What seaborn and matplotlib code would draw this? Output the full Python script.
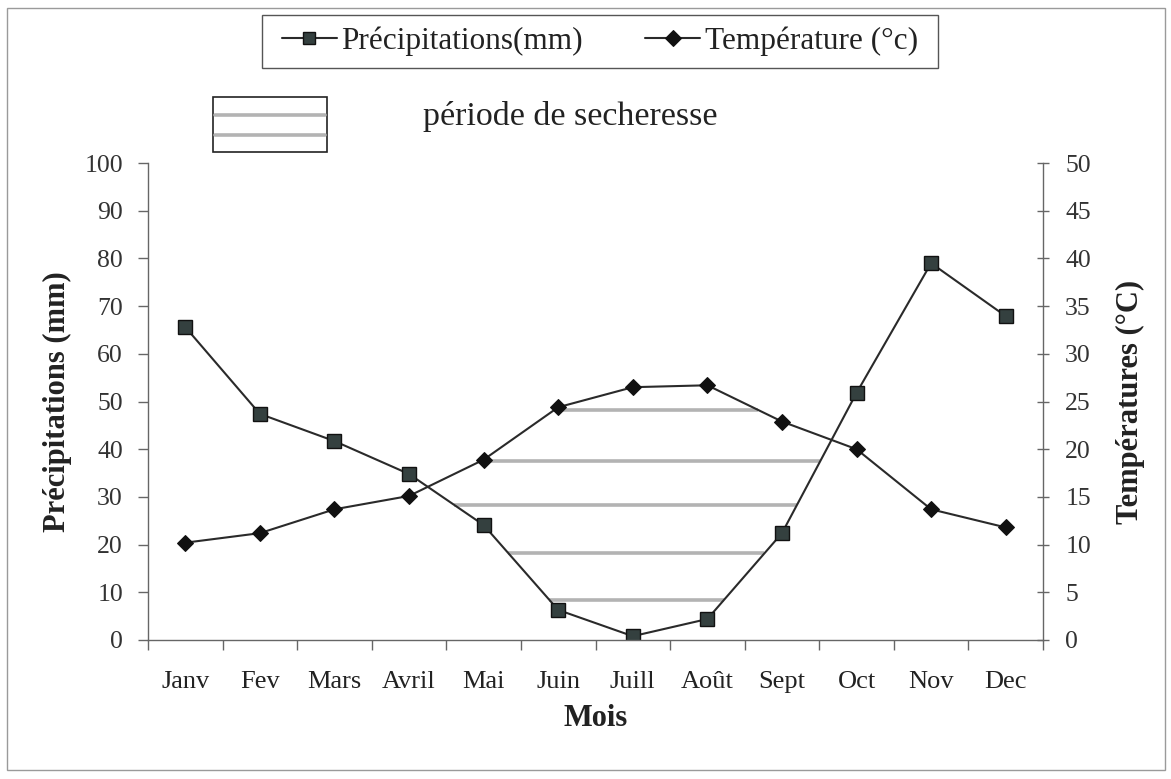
import numpy as np
import pandas as pd
import matplotlib
matplotlib.use("Agg")
import matplotlib.pyplot as plt
import matplotlib.patches as mpatches
import matplotlib.lines as mlines
import seaborn as sns

# ---- data ----
months = ["Janv", "Fev", "Mars", "Avril", "Mai", "Juin", "Juill", "Août",
          "Sept", "Oct", "Nov", "Dec"]
precip = [65.6, 47.4, 41.7, 34.8, 24.1, 6.3, 0.8, 4.4, 22.4, 51.8, 79.0, 67.9]
temp = [10.2, 11.2, 13.7, 15.1, 18.9, 24.4, 26.5, 26.7, 22.9, 20.0, 13.7, 11.8]
hatch_levels = [8.4, 18.2, 28.3, 37.5, 48.2]   # mm levels of the drought hatching
precip_ticks = list(range(0, 101, 10))
temp_ticks = list(range(0, 51, 5))

df = pd.DataFrame({"Mois": months, "P": precip, "T": temp})

sns.set_style("white")
plt.rcParams["font.family"] = ["Liberation Serif", "DejaVu Serif"]

W, H = 1171, 779
fig = plt.figure(figsize=(W / 100, H / 100), dpi=100)
ax = fig.add_axes([148 / W, 1 - 640 / H, (1043 - 148) / W, (640 - 163) / H])
ax2 = ax.twinx()

line_col = "#2a2a2a"
sns.lineplot(data=df, x="Mois", y="P", ax=ax, color=line_col, lw=1.5,
             marker="s", markersize=10, markerfacecolor="#34403f",
             markeredgecolor="#111111", markeredgewidth=1.0,
             label="Précipitations(mm)", sort=False)
sns.lineplot(data=df, x="Mois", y="T", ax=ax2, color=line_col, lw=1.5,
             marker="D", markersize=8.5, markerfacecolor="#111111",
             markeredgecolor="#111111", label="Température (°c)", sort=False)

# drought hatching: horizontal lines where precipitation < 2 x temperature
idx = np.arange(len(months))
xs = np.linspace(0, len(months) - 1, 4401)
p_i = np.interp(xs, idx, precip)
t2_i = np.interp(xs, idx, np.array(temp) * 2)
for L in hatch_levels:
    m = (p_i <= L) & (t2_i >= L)
    if m.any():
        ax.hlines(L, xs[m].min(), xs[m].max(), color="#b3b3b3", lw=2.6, zorder=1)

ax.set_xlim(-0.5, len(months) - 0.5)
ax.set_ylim(0, 100)
ax2.set_ylim(0, 50)
ax.set_yticks(precip_ticks)
ax2.set_yticks(temp_ticks)

# category ticks between months
ax.set_xticks(idx)
ax.set_xticks(np.arange(-0.5, len(months), 1), minor=True)
ax.tick_params(axis="x", which="major", length=0, pad=22, labelsize=19, colors="#222222")
ax.tick_params(axis="x", which="minor", length=7, width=1, color="#666666",
               direction="out", bottom=True)
ax.tick_params(axis="y", length=7, width=1, color="#666666", direction="out",
               pad=11, labelsize=18.5, labelcolor="#333333", left=True)
ax2.tick_params(axis="y", length=8, width=1, color="#666666", direction="inout",
                pad=12, labelsize=18.5, labelcolor="#333333", right=True)

for a in (ax, ax2):
    a.spines["top"].set_visible(False)
    for s in ["left", "right", "bottom"]:
        a.spines[s].set_color("#666666")
        a.spines[s].set_linewidth(1.0)
ax.spines["right"].set_visible(False)
ax2.spines["left"].set_visible(False)
ax2.spines["bottom"].set_visible(False)

ax.set_xlabel("Mois", fontsize=22, fontweight="bold", color="#222222")
ax.xaxis.set_label_coords(0.5, -0.135)
ax.set_ylabel("Précipitations (mm)", fontsize=22, fontweight="bold", color="#222222")
ax.yaxis.set_label_coords(-0.085, 0.5)
ax2.set_ylabel("Températures (°C)", fontsize=22, fontweight="bold", color="#222222")
ax2.yaxis.set_label_coords(1.081, 0.5)

# combined legend at top (frame drawn separately)
h1, l1 = ax.get_legend_handles_labels()
h2, l2 = ax2.get_legend_handles_labels()
ax.get_legend().remove()
ax2.get_legend().remove()
leg = fig.legend(h1 + h2, l1 + l2, loc="center", ncol=2,
                 bbox_to_anchor=(600 / W, 1 - 41.5 / H), fontsize=22.5,
                 frameon=False, handlelength=1.75, handletextpad=0.15,
                 columnspacing=2.0, borderpad=0.25, borderaxespad=0)
for t in leg.get_texts():
    t.set_color("#222222")
for lh in leg.legend_handles:
    lh.set_markersize(8)
fig.add_artist(mpatches.Rectangle((262 / W, 1 - 68 / H), 676 / W, 53 / H,
                                  transform=fig.transFigure, fill=False,
                                  edgecolor="#555555", lw=1.0))

# drought legend key
fig.add_artist(mpatches.Rectangle((213 / W, 1 - 152 / H), 114 / W, 55 / H,
                                  transform=fig.transFigure, fill=False,
                                  edgecolor="#222222", lw=1.2))
for yy in (115, 135):
    fig.add_artist(mlines.Line2D([215 / W, 325 / W], [1 - yy / H, 1 - yy / H],
                                 transform=fig.transFigure, color="#b3b3b3", lw=2.6))
fig.text(423 / W, 1 - 117 / H, "période de secheresse", fontsize=24.5,
         va="center", ha="left", color="#222222")

# outer chart border
fig.add_artist(mpatches.Rectangle((7 / W, 1 - 770 / H), 1158 / W, 762 / H,
                                  transform=fig.transFigure, fill=False,
                                  edgecolor="#9a9a9a", lw=1.0))

fig.savefig("out.png", dpi=100, facecolor="white")
